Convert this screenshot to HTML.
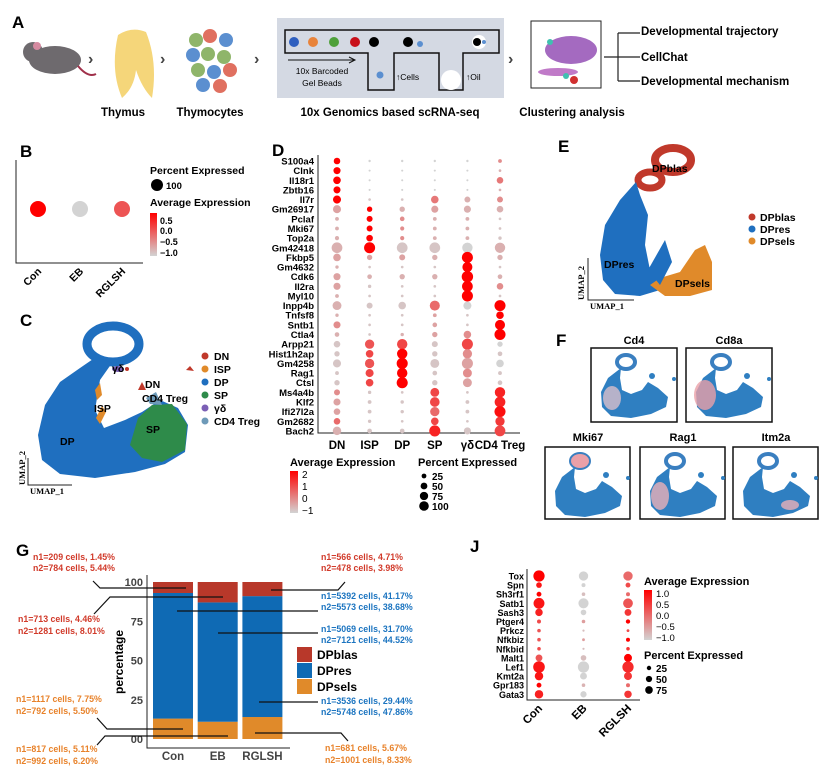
<!DOCTYPE html>
<html><head><meta charset="utf-8"><style>
body{margin:0;background:#fff}
svg{display:block;font-family:"Liberation Sans",Arial,sans-serif;font-weight:bold}
</style></head><body>
<svg id="fig" width="832" height="779" viewBox="0 0 832 779">
<defs>
<linearGradient id="gradB" x1="0" y1="1" x2="0" y2="0"><stop offset="0" stop-color="#d3d3d3"/><stop offset="1" stop-color="#ff0000"/></linearGradient>
<g id="umapMini">
 <ellipse cx="30" cy="10" rx="9" ry="7" fill="none" stroke="#3a7fc0" stroke-width="4"/>
 <path d="M25,16 L12,26 L5,40 L6,55 L15,64 L35,66 L55,62 L70,55 L72,45 L62,36 L52,30 L46,38 L35,42 L26,38 L24,26 Z" fill="#2f7fc1"/>
 <circle cx="56" cy="24" r="3" fill="#2f7fc1"/><circle cx="78" cy="27" r="2" fill="#2f7fc1"/>
</g>
</defs>

<!-- Panel A -->
<g>
<text x="12" y="28" font-size="17">A</text>
<g>
 <ellipse cx="55" cy="60" rx="26" ry="14" fill="#6e6a6e"/>
 <circle cx="33" cy="52" r="10" fill="#6e6a6e"/>
 <circle cx="37" cy="46" r="4" fill="#d58aa0"/>
 <path d="M78,66 Q88,78 96,74" stroke="#a0304a" stroke-width="2" fill="none"/>
</g>
<text x="88" y="64" font-size="16" fill="#444">›</text>
<g>
 <path d="M118,35 Q110,70 122,98 Q134,88 136,70 Q142,88 152,98 Q158,62 146,32 Q132,26 118,35Z" fill="#f5d67a"/>
</g>
<text x="160" y="64" font-size="16" fill="#444">›</text>
<g>
 <circle cx="196" cy="40" r="7" fill="#8fb56a"/><circle cx="210" cy="36" r="7" fill="#e07060"/><circle cx="226" cy="40" r="7" fill="#5b8fd0"/>
 <circle cx="193" cy="55" r="7" fill="#5b8fd0"/><circle cx="208" cy="54" r="7" fill="#8fb56a"/><circle cx="224" cy="57" r="7" fill="#8fb56a"/>
 <circle cx="198" cy="70" r="7" fill="#8fb56a"/><circle cx="214" cy="72" r="7" fill="#5b8fd0"/><circle cx="230" cy="70" r="7" fill="#e07060"/>
 <circle cx="203" cy="85" r="7" fill="#5b8fd0"/><circle cx="220" cy="86" r="7" fill="#e07060"/>
</g>
<text x="254" y="64" font-size="16" fill="#444">›</text>
<g>
 <rect x="277" y="18" width="227" height="80" fill="#d4d9e3"/>
 <path d="M285,30 H499 V53 H463 V90 H439 V53 H394 V90 H368 V53 H285 Z" fill="none" stroke="#111" stroke-width="1.5"/>
 <circle cx="294" cy="42" r="5" fill="#2f5fbf"/><circle cx="313" cy="42" r="5" fill="#e8833a"/><circle cx="334" cy="42" r="5" fill="#4ea03a"/><circle cx="355" cy="42" r="5" fill="#c8101a"/><circle cx="374" cy="42" r="5" fill="#000"/><circle cx="408" cy="42" r="5" fill="#000"/><circle cx="420" cy="44" r="3" fill="#5b8fd0"/><circle cx="479" cy="42" r="7" fill="#fff"/><circle cx="477" cy="42" r="4" fill="#000"/><circle cx="484" cy="42" r="2" fill="#5b8fd0"/>
 <line x1="288" y1="60" x2="354" y2="60" stroke="#111"/><path d="M349,57 L355,60 L349,63" fill="none" stroke="#111"/>
 <text x="322" y="74" font-size="8.5" font-weight="normal" text-anchor="middle">10x Barcoded</text>
 <text x="322" y="86" font-size="8.5" font-weight="normal" text-anchor="middle">Gel Beads</text>
 <circle cx="380" cy="75" r="3.5" fill="#5b8fd0"/>
 <text x="396" y="80" font-size="8.5" font-weight="normal">↑Cells</text>
 <circle cx="451" cy="80" r="10" fill="#fff"/>
 <text x="466" y="80" font-size="8.5" font-weight="normal">↑Oil</text>
</g>
<text x="508" y="64" font-size="16" fill="#444">›</text>
<g>
 <rect x="531" y="21" width="70" height="67" fill="#fff" stroke="#222"/>
 <ellipse cx="571" cy="50" rx="26" ry="14" fill="#a46ac0"/><ellipse cx="558" cy="72" rx="20" ry="4" fill="#c07ac8"/>
 <circle cx="574" cy="80" r="4" fill="#d03030"/><circle cx="566" cy="76" r="3" fill="#40c0b0"/><circle cx="550" cy="42" r="3" fill="#40c0b0"/>
</g>
<path d="M604,57 H618 M618,33 V81 M618,33 H640 M618,57 H640 M618,81 H640" stroke="#222" fill="none" stroke-width="1.2"/>
<text x="641" y="35" font-size="11.5">Developmental trajectory</text>
<text x="641" y="61" font-size="11.5">CellChat</text>
<text x="641" y="85" font-size="11.5">Developmental mechanism</text>
<g font-size="11.5">
 <text x="123" y="116" text-anchor="middle">Thymus</text>
 <text x="210" y="116" text-anchor="middle">Thymocytes</text>
 <text x="390" y="116" text-anchor="middle">10x Genomics  based scRNA-seq</text>
 <text x="572" y="116" text-anchor="middle">Clustering analysis</text>
</g>
</g>

<!-- Panel B -->
<g id="panelB">
<text x="20" y="157" font-size="17">B</text>
<path d="M16,160 V263 H143" stroke="#222" fill="none" stroke-width="1"/>
<text x="150" y="174" font-size="10.5">Percent Expressed</text>
<circle cx="157" cy="185" r="6" fill="#000"/>
<text x="166" y="189" font-size="9.5">100</text>
<text x="150" y="206" font-size="10.5">Average Expression</text>
<rect x="150" y="213" width="7" height="43" fill="url(#gradB)"/>
<g font-size="9"><text x="160" y="224">0.5</text><text x="160" y="234">0.0</text><text x="160" y="245">−0.5</text><text x="160" y="256">−1.0</text></g>
</g>

<!-- Panel C -->
<g>
<text x="20" y="326" font-size="17">C</text>
<g>
 <ellipse cx="113" cy="344" rx="26" ry="18" fill="none" stroke="#1f6fbf" stroke-width="9"/>
 <path d="M96,357 L80,368 L60,382 L45,405 L38,435 L42,460 L60,474 L95,478 L135,472 L165,464 L185,452 L188,425 L178,408 L160,400 L142,412 L125,420 L104,428 L95,410 L100,380 L112,363 Z" fill="#1f6fbf"/>
 <path d="M130,445 L138,418 L152,405 L172,404 L187,424 L185,450 L162,462 L142,458 Z" fill="#2e8b4a"/>
 <path d="M95,390 L100,383 L102,395 L97,400Z" fill="#e08a2a"/>
 <ellipse cx="118" cy="369" rx="6" ry="3" fill="#7b5fb5"/><circle cx="127" cy="369" r="2" fill="#c0392b"/>
 <path d="M138,390 L142,382 L146,390Z" fill="#c0392b"/><path d="M146,398 L156,392 L162,405 L150,404Z" fill="#6e9ab8"/>
 <path d="M96,418 L102,406 L106,412 L100,424Z" fill="#e08a2a"/>
 <path d="M186,370 L190,366 L194,371Z" fill="#c0392b"/>
</g>
<g font-size="10.5">
 <text x="112" y="372">γδ</text><text x="145" y="388">DN</text><text x="142" y="402">CD4 Treg</text>
 <text x="94" y="412">ISP</text><text x="146" y="433">SP</text><text x="60" y="445">DP</text>
</g>
<g font-size="10.5">
 <circle cx="205" cy="356" r="3.5" fill="#c0392b"/><text x="214" y="360">DN</text>
 <circle cx="205" cy="369" r="3.5" fill="#e08a2a"/><text x="214" y="373">ISP</text>
 <circle cx="205" cy="382" r="3.5" fill="#1f6fbf"/><text x="214" y="386">DP</text>
 <circle cx="205" cy="395" r="3.5" fill="#2e8b4a"/><text x="214" y="399">SP</text>
 <circle cx="205" cy="408" r="3.5" fill="#7b5fb5"/><text x="214" y="412">γδ</text>
 <circle cx="205" cy="421" r="3.5" fill="#6e9ab8"/><text x="214" y="425">CD4 Treg</text>
</g>
<path d="M28,458 V485 H72" stroke="#222" fill="none"/>
<text x="30" y="494" font-size="8.5" font-family="Liberation Serif">UMAP_1</text>
<text x="25" y="485" font-size="8.5" font-family="Liberation Serif" transform="rotate(-90 25 485)">UMAP_2</text>
</g>

<!-- Panel D -->
<g id="panelD">
<text x="272" y="156" font-size="17">D</text>
<path d="M318,155 V433 H520" stroke="#222" fill="none"/>
<text x="290" y="466" font-size="11">Average Expression</text>
<rect x="290" y="471" width="8" height="42" fill="url(#gradB)"/>
<g font-size="10" font-weight="normal"><text x="302" y="478">2</text><text x="302" y="490">1</text><text x="302" y="502">0</text><text x="302" y="514">−1</text></g>
<text x="418" y="466" font-size="11">Percent Expressed</text>
</g>

<!-- Panel E -->
<g>
<text x="558" y="152" font-size="17">E</text>
<g>
 <ellipse cx="673" cy="160" rx="18" ry="12" fill="none" stroke="#c0392b" stroke-width="8"/>
 <ellipse cx="650" cy="180" rx="12" ry="8" fill="none" stroke="#c0392b" stroke-width="7"/>
 <path d="M636,182 L620,200 L605,225 L600,255 L603,280 L615,294 L640,296 L660,290 L665,282 L650,270 L645,245 L648,215 L640,195Z" fill="#1f6fbf"/>
 <path d="M650,285 L660,278 L680,272 L695,250 L705,245 L712,262 L712,290 L690,296 L665,296Z" fill="#e08a2a"/>
 <path d="M648,270 L665,240 L672,262 L660,285Z" fill="#1f6fbf"/>
</g>
<g font-size="10.5"><text x="652" y="172">DPblas</text><text x="604" y="268">DPres</text><text x="675" y="287">DPsels</text></g>
<path d="M588,258 V300 H634" stroke="#222" fill="none"/>
<text x="590" y="309" font-size="8.5" font-family="Liberation Serif">UMAP_1</text>
<text x="584" y="300" font-size="8.5" font-family="Liberation Serif" transform="rotate(-90 584 300)">UMAP_2</text>
<g font-size="10.5">
 <circle cx="752" cy="217" r="3.5" fill="#c0392b"/><text x="760" y="221">DPblas</text>
 <circle cx="752" cy="229" r="3.5" fill="#1f6fbf"/><text x="760" y="233">DPres</text>
 <circle cx="752" cy="241" r="3.5" fill="#e08a2a"/><text x="760" y="245">DPsels</text>
</g>
</g>

<!-- Panel F -->
<g>
<text x="556" y="346" font-size="17">F</text>
<g font-size="11" text-anchor="middle">
 <text x="634" y="344">Cd4</text><text x="729" y="344">Cd8a</text>
 <text x="588" y="441">Mki67</text><text x="683" y="441">Rag1</text><text x="776" y="441">Itm2a</text>
</g>
<g><rect x="591" y="348" width="86" height="74" fill="#fff" stroke="#111" stroke-width="1.5"/><use href="#umapMini" transform="translate(596,352)"/><ellipse cx="612" cy="398" rx="9" ry="12" fill="#f0c8cc" opacity=".7"/></g>
<g><rect x="686" y="348" width="86" height="74" fill="#fff" stroke="#111" stroke-width="1.5"/><use href="#umapMini" transform="translate(691,352)"/><ellipse cx="705" cy="395" rx="11" ry="15" fill="#eaa0a8" opacity=".8"/></g>
<g><rect x="545" y="447" width="85" height="72" fill="#fff" stroke="#111" stroke-width="1.5"/><use href="#umapMini" transform="translate(550,451)"/><ellipse cx="580" cy="461" rx="9" ry="7" fill="#eaa0a8"/></g>
<g><rect x="640" y="447" width="85" height="72" fill="#fff" stroke="#111" stroke-width="1.5"/><use href="#umapMini" transform="translate(645,451)"/><ellipse cx="660" cy="496" rx="9" ry="14" fill="#eab0b8" opacity=".8"/></g>
<g><rect x="733" y="447" width="85" height="72" fill="#fff" stroke="#111" stroke-width="1.5"/><use href="#umapMini" transform="translate(738,451)"/><ellipse cx="790" cy="505" rx="9" ry="5" fill="#eab0b8" opacity=".8"/></g>
</g>

<!-- Panel G -->
<g id="panelG">
<text x="16" y="556" font-size="17">G</text>
<path d="M147,575 V748 H290" stroke="#222" fill="none"/>
<text x="123" y="662" font-size="12" text-anchor="middle" transform="rotate(-90 123 662)">percentage</text>
<g font-size="12">
 <rect x="297" y="647" width="15" height="15" fill="#b8382a"/><text x="317" y="659">DPblas</text>
 <rect x="297" y="663" width="15" height="15" fill="#0f6ab4"/><text x="317" y="675">DPres</text>
 <rect x="297" y="679" width="15" height="15" fill="#e08a2a"/><text x="317" y="691">DPsels</text>
</g>
<g font-size="8.8">
 <g fill="#d13a2a"><text x="33" y="560">n1=209 cells, 1.45%</text><text x="33" y="571">n2=784 cells, 5.44%</text>
 <text x="18" y="622">n1=713 cells, 4.46%</text><text x="18" y="634">n2=1281 cells, 8.01%</text>
 <text x="321" y="560">n1=566 cells, 4.71%</text><text x="321" y="571">n2=478 cells, 3.98%</text></g>
 <g fill="#1b74c0"><text x="321" y="599">n1=5392 cells, 41.17%</text><text x="321" y="610">n2=5573 cells, 38.68%</text>
 <text x="321" y="632">n1=5069 cells, 31.70%</text><text x="321" y="643">n2=7121 cells, 44.52%</text>
 <text x="321" y="704">n1=3536 cells, 29.44%</text><text x="321" y="715">n2=5748 cells, 47.86%</text></g>
 <g fill="#e8822a"><text x="16" y="702">n1=1117 cells, 7.75%</text><text x="16" y="714">n2=792 cells, 5.50%</text>
 <text x="16" y="752">n1=817 cells, 5.11%</text><text x="16" y="764">n2=992 cells, 6.20%</text>
 <text x="325" y="751">n1=681 cells, 5.67%</text><text x="325" y="763">n2=1001 cells, 8.33%</text></g>
</g>
</g>

<!-- Panel J -->
<g id="panelJ">
<text x="470" y="552" font-size="17">J</text>
<path d="M527,569 V700 H640" stroke="#222" fill="none"/>
<text x="644" y="585" font-size="11">Average Expression</text>
<rect x="644" y="590" width="8" height="50" fill="url(#gradB)"/>
<g font-size="9.5" font-weight="normal"><text x="656" y="597">1.0</text><text x="656" y="608">0.5</text><text x="656" y="619">0.0</text><text x="656" y="630">−0.5</text><text x="656" y="641">−1.0</text></g>
<text x="644" y="659" font-size="11">Percent Expressed</text>
</g>
</svg>

<script>
// ---------- Panel B data ----------
const bGroups = ["Con","EB","RGLSH"];
const bAvg = [0.5, -1.0, -0.1];
const bPct = [100, 100, 100];

// ---------- Panel D data ----------
const dGenes = ["S100a4","Clnk","Il18r1","Zbtb16","Il7r","Gm26917","Pclaf","Mki67","Top2a","Gm42418","Fkbp5","Gm4632","Cdk6","Il2ra","Myl10","Inpp4b","Tnfsf8","Sntb1","Ctla4","Arpp21","Hist1h2ap","Gm4258","Rag1","Ctsl","Ms4a4b","Klf2","Ifi27l2a","Gm2682","Bach2"];
const dClusters = ["DN","ISP","DP","SP","γδ","CD4 Treg"];
const dPct = [
 [30,4,4,4,4,10],[35,3,3,3,3,5],[40,3,3,3,3,30],[35,3,3,3,3,5],[45,5,5,40,25,25],
 [45,20,20,35,35,30],[10,25,15,10,10,5],[10,25,12,10,10,5],[12,30,12,10,10,8],
 [80,85,80,80,75,75],[40,20,25,20,85,20],[8,5,5,5,70,5],[35,15,20,20,90,15],[35,8,5,5,80,30],[10,5,5,5,85,5],
 [55,25,40,70,45,85],[8,5,5,10,5,40],[35,5,5,15,5,70],[15,5,8,20,40,85],
 [30,60,75,25,85,20],[20,40,75,20,60,15],[45,60,85,55,85,40],[10,45,75,15,55,10],[20,40,85,20,55,15],
 [25,8,5,55,5,75],[35,10,8,65,10,80],[30,10,8,60,10,85],[30,8,5,40,5,60],[50,15,15,85,35,80]];
const dAvg = [
 [2,-1,-1,-1,-1,0],[2,-1,-1,-1,-1,-0.5],[2,-1,-1,-1,-1,0.3],[2,-1,-1,-1,-1,-0.5],[2,-0.8,-0.8,0.3,-0.5,0],
 [-0.3,2,-0.5,-0.3,-0.5,-0.5],[-0.5,2,0,-0.5,-0.5,-0.8],[-0.5,2,0,-0.5,-0.5,-0.8],[-0.5,2,0,-0.5,-0.5,-0.8],
 [-0.5,2,-0.8,-0.8,-1,-0.5],[-0.3,-0.3,-0.3,-0.5,2,-0.5],[-0.5,-0.8,-0.8,-0.8,2,-0.8],[-0.3,-0.5,-0.5,-0.5,2,-0.5],[-0.3,-0.8,-0.8,-0.8,2,0],[-0.5,-0.8,-0.8,-0.8,2,-0.8],
 [-0.5,-0.8,-0.8,0.5,-1,2],[-0.5,-0.8,-0.8,-0.3,-0.8,2],[0,-0.8,-0.8,-0.3,-0.8,2],[-0.5,-0.8,-0.5,-0.3,0,2],
 [-0.8,0.8,1,-0.8,1,-1],[-0.8,1,2,-0.8,0,-0.8],[-0.8,0.8,2,-0.8,-0.3,-1],[-0.8,1,2,-0.8,0,-0.8],[-0.8,1,2,-0.8,-0.3,-0.8],
 [0,-0.8,-0.8,1,-0.8,1.5],[-0.3,-0.8,-0.8,1,-0.8,1.5],[-0.3,-0.8,-0.8,0.5,-0.8,1.8],[0.5,-0.8,-0.8,1,-0.8,1.2],[-0.5,-0.8,-0.8,1.5,-0.8,1]];
const dLegendPct = [25,50,75,100];

// ---------- Panel G data ----------
const gGroups = ["Con","EB","RGLSH"];
const gSels = [13, 11, 14];
const gRes = [80, 76, 77];
const gBlas = [7, 13, 9];
const gTicks = [0,25,50,75,100];
const gTickLabels = ["00","25","50","75","100"];

// ---------- Panel J data ----------
const jGenes = ["Tox","Spn","Sh3rf1","Satb1","Sash3","Ptger4","Prkcz","Nfkbiz","Nfkbid","Malt1","Lef1","Kmt2a","Gpr183","Gata3"];
const jGroups = ["Con","EB","RGLSH"];
const jPct = [[80,55,55],[20,10,15],[15,8,10],[75,65,60],[35,20,30],[10,8,12],[8,3,5],[8,5,10],[8,3,8],[30,20,40],[85,80,80],[45,30,40],[15,8,10],[45,25,35]];
const jAvg = [[1,-1,0],[0.8,-1,0.3],[1,-0.8,0],[0.8,-1,0.2],[0.7,-1,0.5],[0.3,-0.5,1],[0.2,-0.8,0.3],[0.2,-0.5,1],[0.3,-0.8,0.5],[0.2,-0.8,1],[0.8,-1,0.6],[0.8,-1,0.5],[1,-0.7,0],[0.7,-1,0.5]];
const jLegendPct = [25,50,75];

const NS = "http://www.w3.org/2000/svg";
function mk(tag, attrs, parent, txt){const e=document.createElementNS(NS,tag);for(const k in attrs)e.setAttribute(k,attrs[k]);if(txt!==undefined)e.textContent=txt;parent.appendChild(e);return e;}
function col(v,lo,hi){let t=(v-lo)/(hi-lo);t=Math.max(0,Math.min(1,t));const r=Math.round(211+44*t),g=Math.round(211*(1-t)),b=Math.round(211*(1-t));return `rgb(${r},${g},${b})`;}

// Panel B
const pB=document.getElementById("panelB");
const bx=i=>38+i*42, by=()=>209, br=p=>8*Math.sqrt(p/100);
bGroups.forEach((g,i)=>{
 const c=mk("circle",{cx:bx(i),cy:by(),r:br(bPct[i]),fill:col(bAvg[i],-1,0.5)},pB);
 
 
 const t=mk("text",{x:bx(i)+4,y:272,"font-size":10.5,"text-anchor":"end",transform:`rotate(-45 ${bx(i)+4} 272)`},pB,g);
 
 
});

// Panel D
const pD=document.getElementById("panelD");
const dx=j=>337+j*32.6, dy=i=>161+i*9.64, dr=p=>6*Math.sqrt(p/100);
dGenes.forEach((g,i)=>{
 const t=mk("text",{x:314,y:dy(i)+3.5,"font-size":9.5,"text-anchor":"end"},pD,g);
 
 
 dClusters.forEach((c,j)=>{
  const d=mk("circle",{cx:dx(j),cy:dy(i),r:dr(dPct[i][j]),fill:col(dAvg[i][j],-1,2)},pD);
  
  
 });
});
dClusters.forEach((c,j)=>{
 const t=mk("text",{x:dx(j),y:449,"font-size":11.5,"text-anchor":"middle"},pD,c);
 
 
});
dLegendPct.forEach((p,k)=>{
 mk("circle",{cx:424,cy:476+k*10,r:dr(p)*0.8,fill:"#000"},pD);
 const t=mk("text",{x:432,y:480+k*10,"font-size":10},pD,p);
 
 
});

// Panel G
const pG=document.getElementById("panelG");
const gy=v=>739-v*1.57, gx=i=>153+i*44.7, gw=40;
gTicks.forEach((v,k)=>{
 const t=mk("text",{x:143,y:gy(v)+4,"font-size":11,"text-anchor":"end",fill:"#444"},pG,gTickLabels[k]);
 
 
});
gGroups.forEach((g,i)=>{
 const r1=mk("rect",{x:gx(i),y:gy(gSels[i]),width:gw,height:gy(0)-gy(gSels[i]),fill:"#e08a2a"},pG);
 
 
 const top2=gSels[i]+gRes[i];
 const r2=mk("rect",{x:gx(i),y:gy(top2),width:gw,height:gy(gSels[i])-gy(top2),fill:"#0f6ab4"},pG);
 
 
 const top3=top2+gBlas[i];
 const r3=mk("rect",{x:gx(i),y:gy(top3),width:gw,height:gy(top2)-gy(top3),fill:"#b8382a"},pG);
 
 
 const t=mk("text",{x:gx(i)+gw/2,y:760,"font-size":11.5,"text-anchor":"middle",fill:"#444"},pG,g);
 
 
});
[["93,581 100,588 186,588"],["94,614 110,597 223,597"],["345,582 338,590 271,590"],["318,611 177,611"],["318,633 218,633"],["318,702 259,702"],["348,741 341,733 255,733"],["97,718 107,729 183,729"],["97,745 105,736 228,736"]].forEach(p=>{
 const l=mk("polyline",{points:p[0],fill:"none",stroke:"#111","stroke-width":1.2},pG);
 
 
});

// Panel J
const pJ=document.getElementById("panelJ");
const jx=j=>539+j*44.5, jy=i=>576+i*9.1, jr=p=>6.3*Math.sqrt(p/100);
jGenes.forEach((g,i)=>{
 const t=mk("text",{x:524,y:jy(i)+3.5,"font-size":9,"text-anchor":"end"},pJ,g);
 
 
 jGroups.forEach((c,j)=>{
  const d=mk("circle",{cx:jx(j),cy:jy(i),r:jr(jPct[i][j]),fill:col(jAvg[i][j],-1,1)},pJ);
  
  
 });
});
jGroups.forEach((g,j)=>{
 const t=mk("text",{x:jx(j)+4,y:709,"font-size":11.5,"text-anchor":"end",transform:`rotate(-45 ${jx(j)+4} 709)`},pJ,g);
 
 
});
jLegendPct.forEach((p,k)=>{
 mk("circle",{cx:649,cy:668+k*11,r:jr(p)*0.7,fill:"#000"},pJ);
 const t=mk("text",{x:656,y:672+k*11,"font-size":10},pJ,p);
 
 
});
</script>
</body></html>
